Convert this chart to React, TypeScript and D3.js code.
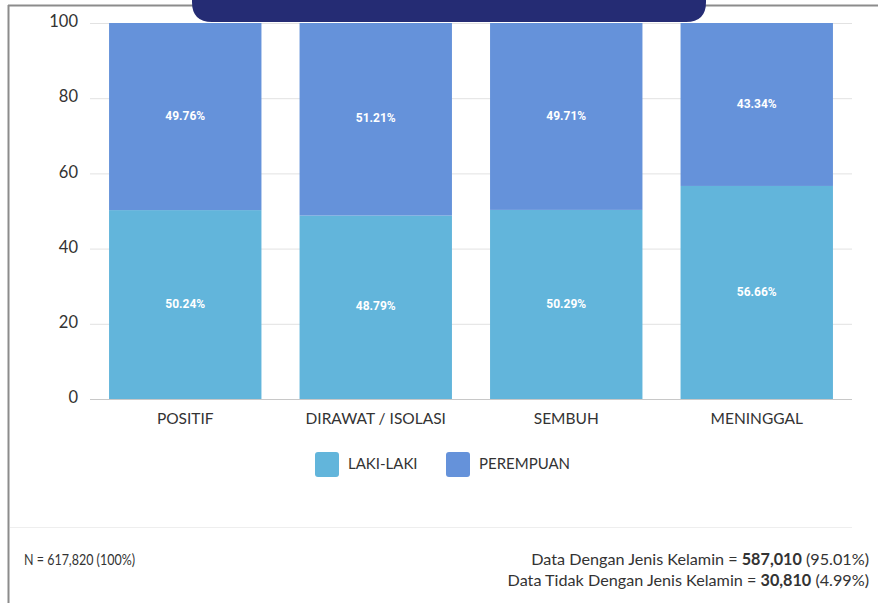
import React, { useEffect, useRef } from 'react'
import * as d3 from 'd3'

const categories = ['POSITIF', 'DIRAWAT / ISOLASI', 'SEMBUH', 'MENINGGAL']
const lakiLaki = [50.24, 48.79, 50.29, 56.66]
const perempuan = [49.76, 51.21, 49.71, 43.34]
const seriesNames = ['LAKI-LAKI', 'PEREMPUAN']
const seriesColors = ['#62b5db', '#6592da']
const yTicks = [0, 20, 40, 60, 80, 100]
const footerLeft = 'N = 617,820 (100%)'
const footerRight = [
	['Data Dengan Jenis Kelamin = ', '587,010', ' (95.01%)'],
	['Data Tidak Dengan Jenis Kelamin = ', '30,810', ' (4.99%)'],
]

export default function App() {
	const ref = useRef<SVGSVGElement>(null)

	const width = 878
	const height = 603

	useEffect(() => {
		const svg = d3.select(ref.current)
		svg.selectAll('*').remove()

		// Frame
		svg.append('rect').attr('width', width).attr('height', height).attr('fill', '#fff')
		svg.append('line')
			.attr('x1', 8.5).attr('x2', 8.5).attr('y1', 5).attr('y2', height)
			.attr('stroke', '#8c8c8c').attr('stroke-width', 2)
		svg.append('line')
			.attr('x1', 8).attr('x2', width).attr('y1', 5.5).attr('y2', 5.5)
			.attr('stroke', '#8c8c8c').attr('stroke-width', 2)

		// Header tab
		svg.append('path')
			.attr('d', 'M192,-10 L706,-10 L706,2 Q706,22 686,22 L212,22 Q192,22 192,2 Z')
			.attr('fill', '#252c74')

		const x = d3.scaleBand()
			.domain(categories)
			.range([90, 852])
			.paddingInner(0.2)
			.paddingOuter(0.1)

		const y = d3.scaleLinear().domain([0, 100]).range([399, 23])

		// Grid
		svg.append('g')
			.selectAll('line')
			.data(yTicks)
			.enter()
			.append('line')
			.attr('x1', 90).attr('x2', 852)
			.attr('y1', (d) => y(d) + 0.5).attr('y2', (d) => y(d) + 0.5)
			.attr('stroke', (d) => d === 0 ? '#c8c8c8' : '#e2e2e2')

		// Y labels
		svg.append('g')
			.selectAll('text')
			.data(yTicks)
			.enter()
			.append('text')
			.attr('x', 78)
			.attr('y', (d) => y(d))
			.attr('text-anchor', 'end')
			.attr('dominant-baseline', 'middle')
			.style('font-family', 'Lato, sans-serif')
			.style('font-size', '16.5px')
			.style('fill', '#333')
			.text((d) => d)

		const rows = categories.map((c, i) => ({ cat: c, laki: lakiLaki[i], perempuan: perempuan[i] }))
		const stack = d3.stack<any>().keys(['laki', 'perempuan'])(rows)

		stack.forEach((layer, li) => {
			const g = svg.append('g')
			g.selectAll('rect')
				.data(layer)
				.enter()
				.append('rect')
				.attr('x', (d: any) => x(d.data.cat) as number)
				.attr('width', x.bandwidth())
				.attr('y', (d) => y(d[1]))
				.attr('height', (d) => y(d[0]) - y(d[1]))
				.attr('fill', seriesColors[li])

			g.selectAll('text')
				.data(layer)
				.enter()
				.append('text')
				.attr('x', (d: any) => (x(d.data.cat) as number) + x.bandwidth() / 2)
				.attr('y', (d) => (y(d[0]) + y(d[1])) / 2)
				.attr('text-anchor', 'middle')
				.attr('dominant-baseline', 'middle')
				.style('font-family', 'Roboto, sans-serif')
				.style('font-weight', 'bold')
				.style('font-size', '12px')
				.style('fill', '#fff')
				.text((d) => (d[1] - d[0]).toFixed(2) + '%')
		})

		// X labels
		svg.append('g')
			.selectAll('text')
			.data(categories)
			.enter()
			.append('text')
			.attr('x', (d) => (x(d) as number) + x.bandwidth() / 2)
			.attr('y', 420)
			.attr('text-anchor', 'middle')
			.attr('dominant-baseline', 'middle')
			.style('font-family', 'Lato, sans-serif')
			.style('font-size', '15.5px')
			.style('fill', '#333')
			.text((d) => d)

		// Legend
		const legendX = [315, 446]
		seriesNames.forEach((name, i) => {
			svg.append('rect')
				.attr('x', legendX[i]).attr('y', 452)
				.attr('width', 24).attr('height', 25)
				.attr('rx', 3)
				.attr('fill', seriesColors[i])
			svg.append('text')
				.attr('x', legendX[i] + 33)
				.attr('y', 465)
				.attr('dominant-baseline', 'middle')
				.style('font-family', 'Lato, sans-serif')
				.style('font-size', '15px')
				.style('fill', '#333')
				.text(name)
		})

		// Separator
		svg.append('line')
			.attr('x1', 10).attr('x2', 852).attr('y1', 527.5).attr('y2', 527.5)
			.attr('stroke', '#eeeeee')

		// Footer
		svg.append('text')
			.attr('x', 24).attr('y', 561)
			.attr('dominant-baseline', 'middle')
			.attr('textLength', 111)
			.attr('lengthAdjust', 'spacingAndGlyphs')
			.style('font-family', 'Lato, sans-serif')
			.style('font-size', '15px')
			.style('fill', '#333')
			.text(footerLeft)

		footerRight.forEach((parts, i) => {
			const t = svg.append('text')
				.attr('x', 869).attr('y', 561 + i * 21)
				.attr('text-anchor', 'end')
				.attr('dominant-baseline', 'middle')
				.style('font-family', 'Lato, sans-serif')
				.style('font-size', '16.2px')
				.style('fill', '#333')
			parts.forEach((p, pi) => {
				t.append('tspan')
					.style('font-weight', pi === 1 ? 'bold' : 'normal')
					.text(p)
			})
		})
	}, [])

	return (
		<svg ref={ref} width={width} height={height}
			style={{ position: 'fixed', left: 0, top: 0 }} />
	)
}
